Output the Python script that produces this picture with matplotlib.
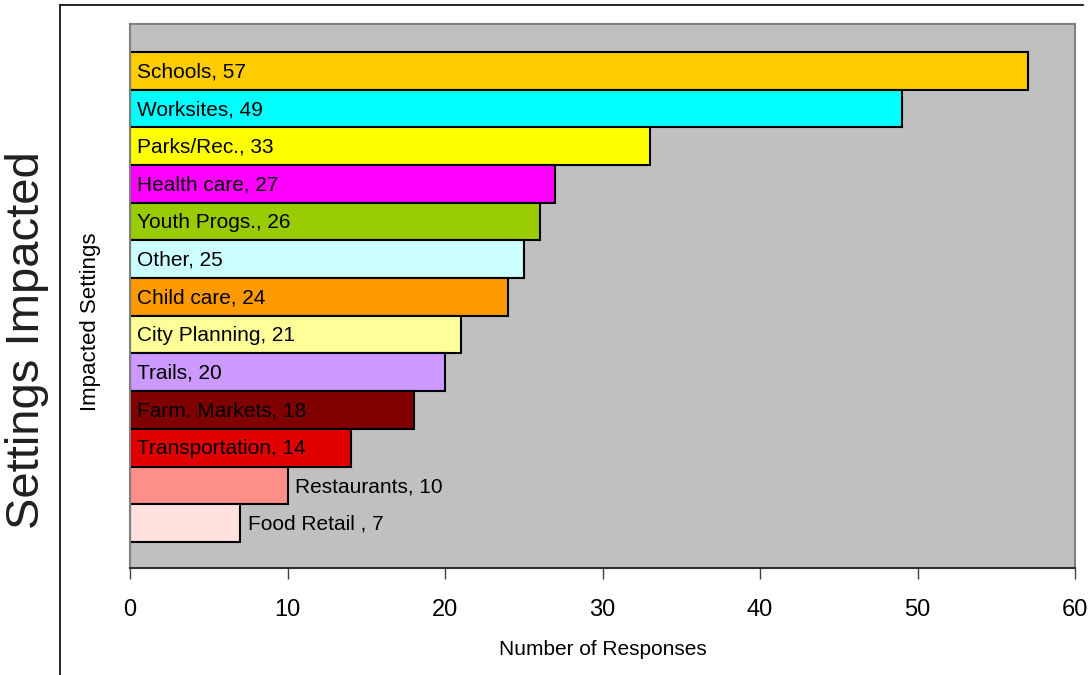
import matplotlib
matplotlib.use("Agg")
import matplotlib.pyplot as plt
from matplotlib.lines import Line2D

# ── DATA ───────────────────────────────────────────────────
settings = ["Schools", "Worksites", "Parks/Rec.", "Health care", "Youth Progs.",
            "Other", "Child care", "City Planning", "Trails", "Farm. Markets",
            "Transportation", "Restaurants", "Food Retail "]
responses = [57, 49, 33, 27, 26, 25, 24, 21, 20, 18, 14, 10, 7]
bar_colors = ["#FFCC00", "#00FFFF", "#FFFF00", "#FF00FF", "#99CC00",
              "#CCFFFF", "#FF9900", "#FFFF99", "#CC99FF", "#800000",
              "#E00000", "#FF8F88", "#FFE0DC"]
xticks = [0, 10, 20, 30, 40, 50, 60]

# ── STYLE ──────────────────────────────────────────────────
plt.rcParams["font.family"] = ["Liberation Sans", "DejaVu Sans"]

fig = plt.figure(figsize=(10.9, 6.75), dpi=100)
ax = fig.add_axes([130 / 1090, 1 - 568 / 675, 945 / 1090, 544 / 675])
ax.set_facecolor("#C0C0C0")

ypos = list(range(len(settings)))
ax.barh(ypos, responses, height=1.0, color=bar_colors,
        edgecolor="black", linewidth=1.5, zorder=2)

# labels: inside the bar for the long ones, outside for the short ones
for y, name, val in zip(ypos, settings, responses):
    label = f"{name}, {val}"
    x = 0.45 if val >= 14 else val + 0.5
    ax.text(x, y + 0.03, label, va="center", ha="left", fontsize=15,
            color="black", zorder=3)

ax.set_xlim(0, 60)
ax.set_ylim(12.5 + 0.69, -0.5 - 0.74)
ax.set_xticks(xticks)
ax.set_xticklabels([str(t) for t in xticks], fontsize=17)
ax.set_yticks([])
ax.tick_params(axis="x", direction="out", length=8, width=1, color="#404040", pad=14)

for side in ["top", "right", "left"]:
    ax.spines[side].set_color("#808080")
    ax.spines[side].set_linewidth(1.5)
ax.spines["bottom"].set_color("#303030")
ax.spines["bottom"].set_linewidth(1.5)

ax.set_xlabel("Number of Responses", fontsize=15, labelpad=14)
ax.set_ylabel("Impacted Settings", fontsize=16)
ax.yaxis.set_label_coords(-0.031, 0.452)

# big outer title on the left
fig.text(27 / 1090, 1 - 340 / 675, "Settings Impacted", rotation=90,
         fontsize=34, ha="center", va="center", color="#202020")

# outer frame (top and left only)
fig.add_artist(Line2D([60 / 1090, 60 / 1090], [0, 1 - 5 / 675],
                      transform=fig.transFigure, color="black", linewidth=1.2))
fig.add_artist(Line2D([60 / 1090, 1083 / 1090], [1 - 5 / 675, 1 - 5 / 675],
                      transform=fig.transFigure, color="black", linewidth=1.2))

fig.savefig("out.png", dpi=100)
